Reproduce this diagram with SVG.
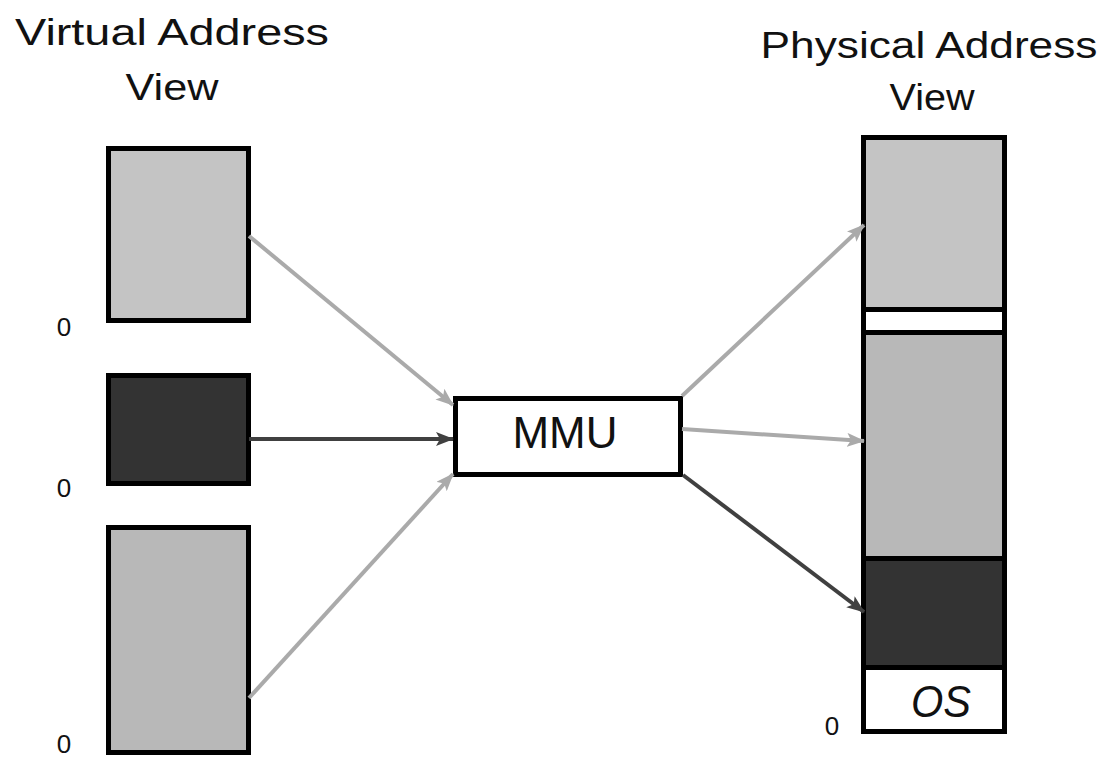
<svg xmlns="http://www.w3.org/2000/svg" width="1106" height="757" viewBox="0 0 1106 757">
  <style>
    .title { font-family: "Liberation Sans", Arial, sans-serif; font-size: 36px; fill: #111; }
    .zero { font-family: "Liberation Sans", Arial, sans-serif; font-size: 26px; fill: #111; }
    .blk { stroke: #000; stroke-width: 5; }
    .light { fill: #c4c4c4; }
    .mid { fill: #b8b8b8; }
    .dark { fill: #333333; }
    .white { fill: #ffffff; }
    .conn-gray { stroke: #aaaaaa; stroke-width: 4; fill: none; }
    .conn-dark { stroke: #404040; stroke-width: 4; fill: none; }
  </style>
  <defs>
    <marker id="headGray" markerUnits="userSpaceOnUse" markerWidth="18" markerHeight="14" refX="17" refY="7" orient="auto">
      <path d="M0,0 L18,7 L0,14 L4,7 Z" fill="#aaaaaa"/>
    </marker>
    <marker id="headDark" markerUnits="userSpaceOnUse" markerWidth="18" markerHeight="14" refX="17" refY="7" orient="auto">
      <path d="M0,0 L18,7 L0,14 L4,7 Z" fill="#404040"/>
    </marker>
  </defs>
  <rect width="1106" height="757" fill="#ffffff"/>

  <!-- column headings -->
  <g id="virtual-heading">
    <text class="title" x="172" y="45" text-anchor="middle" textLength="314" lengthAdjust="spacingAndGlyphs">Virtual Address</text>
    <text class="title" x="172" y="100" text-anchor="middle" textLength="93" lengthAdjust="spacingAndGlyphs">View</text>
  </g>
  <g id="physical-heading">
    <text class="title" x="929" y="58" text-anchor="middle" textLength="337" lengthAdjust="spacingAndGlyphs">Physical Address</text>
    <text class="title" x="932" y="110" text-anchor="middle" textLength="85" lengthAdjust="spacingAndGlyphs">View</text>
  </g>

  <!-- virtual address spaces -->
  <g id="vspace-1">
    <rect class="blk light" x="108.5" y="148.5" width="140" height="172"/>
    <text class="zero" x="64" y="336" text-anchor="middle">0</text>
  </g>
  <g id="vspace-2">
    <rect class="blk dark" x="108.5" y="375.5" width="140" height="108"/>
    <text class="zero" x="64" y="497" text-anchor="middle">0</text>
  </g>
  <g id="vspace-3">
    <rect class="blk mid" x="108.5" y="527.5" width="140" height="225"/>
    <text class="zero" x="64" y="753" text-anchor="middle">0</text>
  </g>

  <!-- translation unit -->
  <g id="mmu">
    <rect class="blk white" x="455.5" y="398.5" width="225" height="76"/>
    <text x="565" y="448" text-anchor="middle" font-family="Liberation Sans, Arial, sans-serif" font-size="44" fill="#111" textLength="105" lengthAdjust="spacingAndGlyphs">MMU</text>
  </g>

  <!-- physical memory column -->
  <g id="physical-memory">
    <rect class="blk light" x="863.5" y="137.5" width="141" height="172"/>
    <rect class="blk white" x="863.5" y="309.5" width="141" height="23"/>
    <rect class="blk mid" x="863.5" y="332.5" width="141" height="226"/>
    <rect class="blk dark" x="863.5" y="558.5" width="141" height="109"/>
    <rect class="blk white" x="863.5" y="667.5" width="141" height="64"/>
  </g>
  <g id="os-region">
    <text x="941" y="717" text-anchor="middle" font-family="Liberation Sans, Arial, sans-serif" font-size="44" font-style="italic" fill="#111" textLength="60" lengthAdjust="spacingAndGlyphs">OS</text>
    <text class="zero" x="832" y="735" text-anchor="middle">0</text>
  </g>

  <!-- mappings -->
  <g id="connectors">
    <line class="conn-gray" x1="249" y1="236" x2="453" y2="405" marker-end="url(#headGray)"/>
    <line class="conn-dark" x1="249" y1="439" x2="453" y2="439" marker-end="url(#headDark)"/>
    <line class="conn-gray" x1="249" y1="698" x2="453" y2="474" marker-end="url(#headGray)"/>
    <line class="conn-gray" x1="682" y1="396" x2="864" y2="225" marker-end="url(#headGray)"/>
    <line class="conn-gray" x1="682" y1="429" x2="864" y2="441" marker-end="url(#headGray)"/>
    <line class="conn-dark" x1="683" y1="475" x2="864" y2="612" marker-end="url(#headDark)"/>
  </g>
</svg>
